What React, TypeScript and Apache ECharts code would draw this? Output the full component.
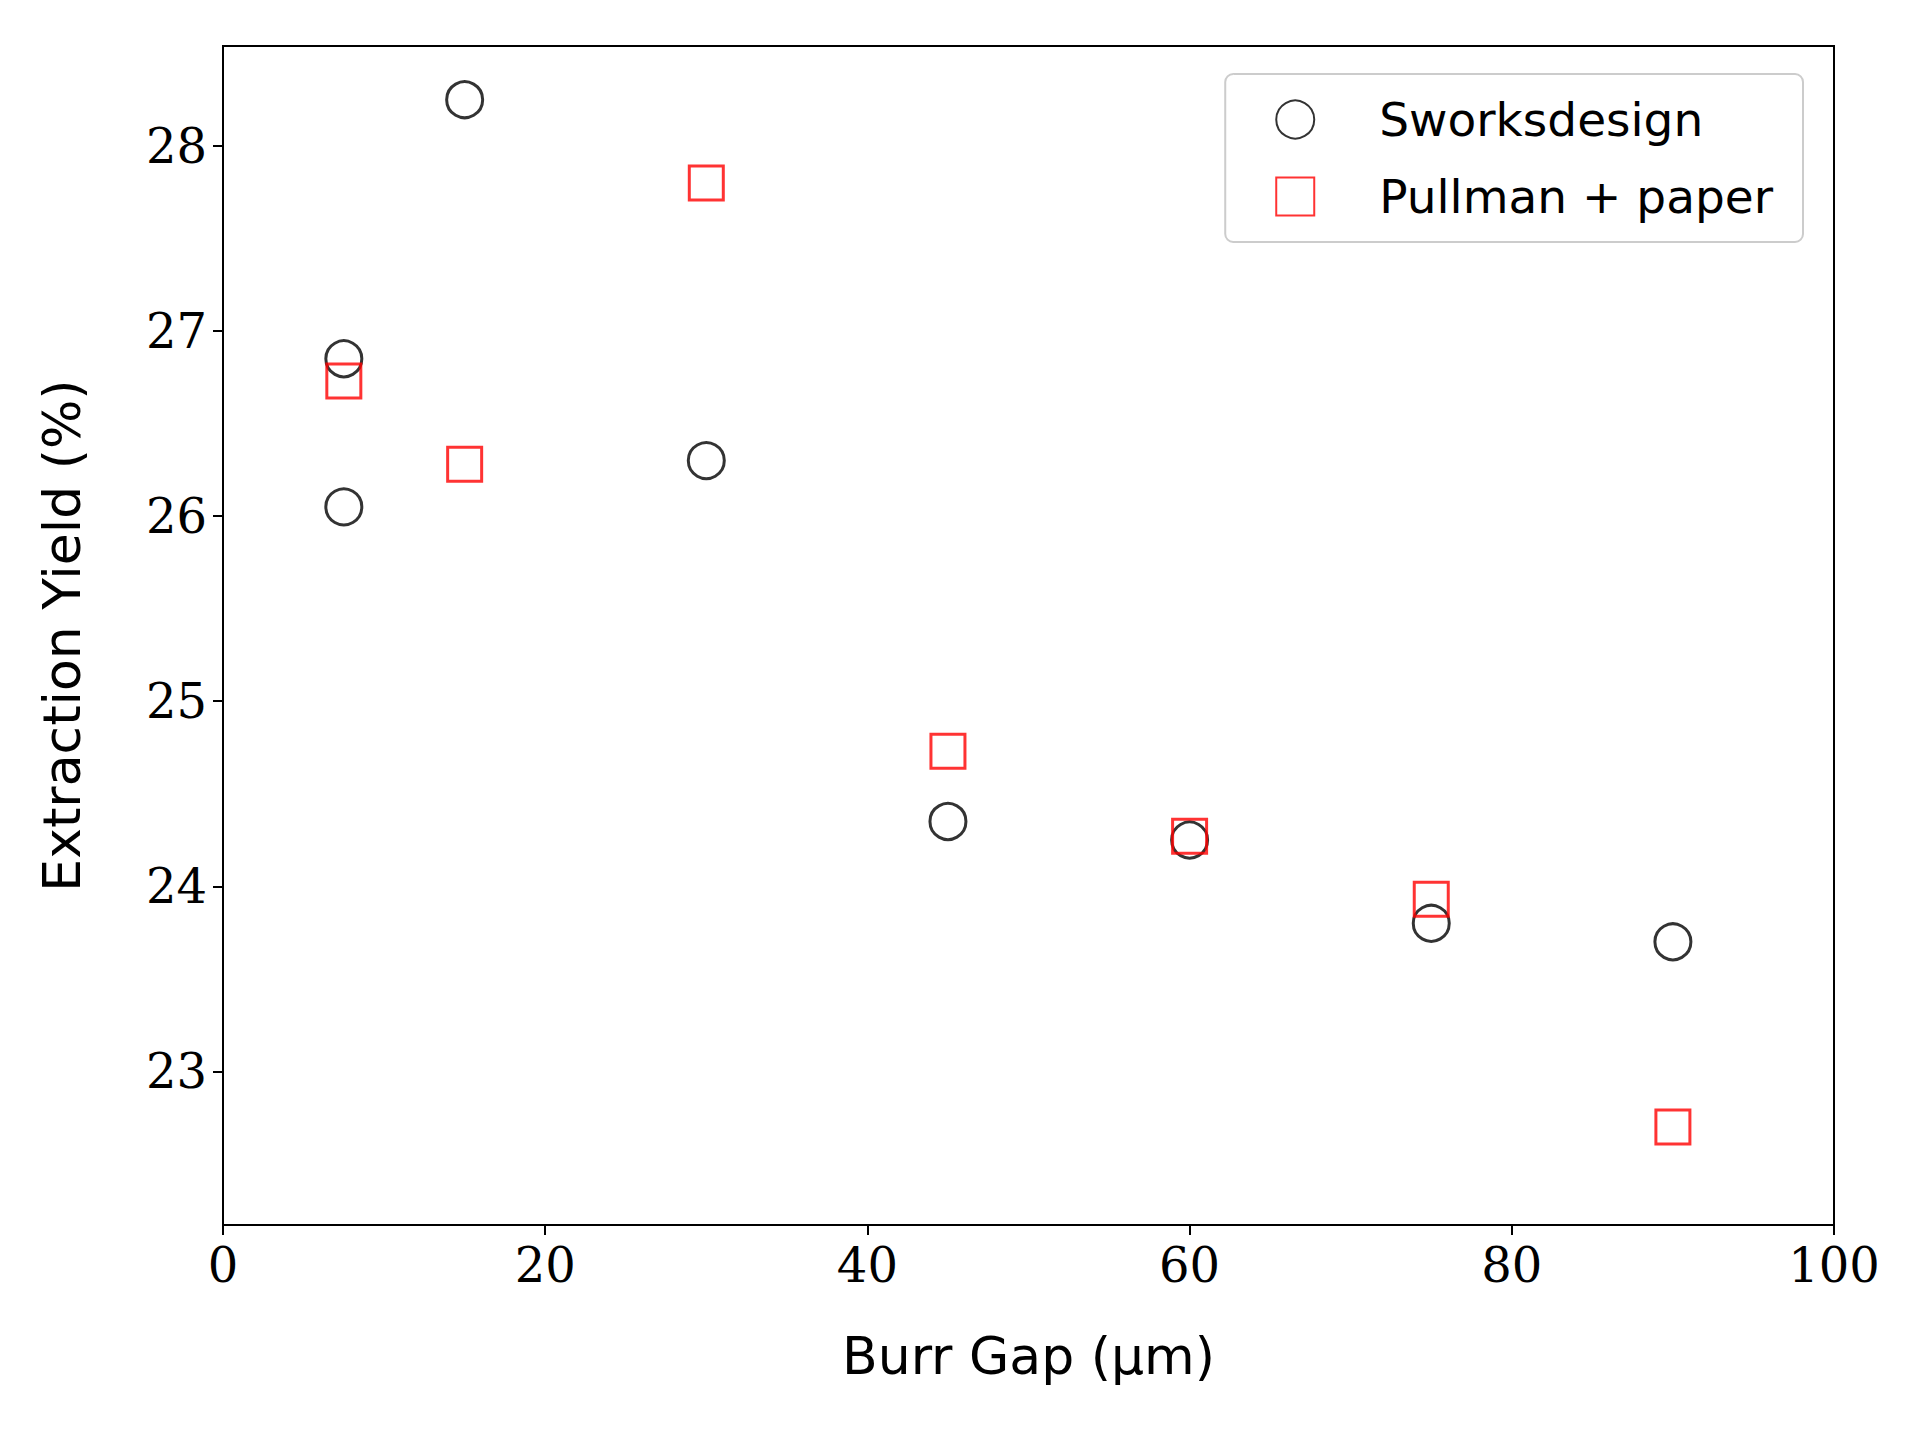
import { useEffect, useRef } from "react";
import * as echarts from "echarts";

const sworksX = [7.5, 7.5, 15, 30, 45, 60, 75, 90];
const sworksY = [26.85, 26.05, 28.25, 26.3, 24.35, 24.25, 23.8, 23.7];
const pullmanX = [7.5, 15, 30, 45, 60, 75, 90];
const pullmanY = [26.73, 26.28, 27.8, 24.73, 24.27, 23.93, 22.7];
const seriesNames = ["Sworksdesign", "Pullman + paper"];

export default function App() {
  const divRef = useRef<HTMLDivElement>(null);

  useEffect(() => {
    if (!divRef.current) return;
    const chart = echarts.init(divRef.current, null, { renderer: "svg" });
    const serif = "'DejaVu Serif', 'Liberation Serif', serif";
    const sans = "'DejaVu Sans', sans-serif";
    chart.setOption({
      animation: false,
      backgroundColor: "#fff",
      grid: { left: 215, right: 74, top: 38, bottom: 203, show: true, borderColor: "#000", borderWidth: 2 },
      legend: {
        right: 105,
        top: 66,
        orient: "vertical",
        padding: [22, 30, 22, 50],
        itemGap: 30,
        itemWidth: 38,
        itemHeight: 38,
        borderColor: "#ccc",
        borderWidth: 2,
        borderRadius: 8,
        textStyle: { fontFamily: sans, fontSize: 47, color: "#000", padding: [0, 0, 0, 60] },
        data: seriesNames,
      },
      xAxis: {
        type: "value",
        min: 0,
        max: 100,
        interval: 20,
        name: "Burr Gap (μm)",
        nameLocation: "middle",
        nameGap: 105,
        nameTextStyle: { fontFamily: sans, fontSize: 52, color: "#000" },
        axisLine: { lineStyle: { color: "#000", width: 2 } },
        axisTick: { inside: false, length: 10, lineStyle: { color: "#000", width: 2 } },
        axisLabel: { fontFamily: serif, fontSize: 48, color: "#000", margin: 16 },
        splitLine: { show: false },
      },
      yAxis: {
        type: "value",
        min: 22.17,
        max: 28.54,
        splitNumber: 6,
        name: "Extraction Yield (%)",
        nameLocation: "middle",
        nameGap: 135,
        nameTextStyle: { fontFamily: sans, fontSize: 52, color: "#000" },
        axisLine: { show: true, lineStyle: { color: "#000", width: 2 } },
        axisTick: { show: true, length: 10, lineStyle: { color: "#000", width: 2 } },
        axisLabel: {
          fontFamily: serif,
          fontSize: 48,
          color: "#000",
          margin: 16,
          showMinLabel: false,
          showMaxLabel: false,
          formatter: (v: number) => (Number.isInteger(v) ? String(v) : ""),
        },
        splitLine: { show: false },
      },
      series: [
        {
          name: seriesNames[0],
          type: "scatter",
          symbol: "circle",
          symbolSize: 36,
          itemStyle: { color: "transparent", borderColor: "#000", borderWidth: 3 },
          data: sworksX.map((x, i) => [x, sworksY[i]]),
        },
        {
          name: seriesNames[1],
          type: "scatter",
          symbol: "rect",
          symbolSize: 34,
          itemStyle: { color: "transparent", borderColor: "#ff0000", borderWidth: 3 },
          data: pullmanX.map((x, i) => [x, pullmanY[i]]),
        },
      ],
    });
    return () => chart.dispose();
  }, []);

  return <div ref={divRef} style={{ width: 1900, height: 1420 }} />;
}
